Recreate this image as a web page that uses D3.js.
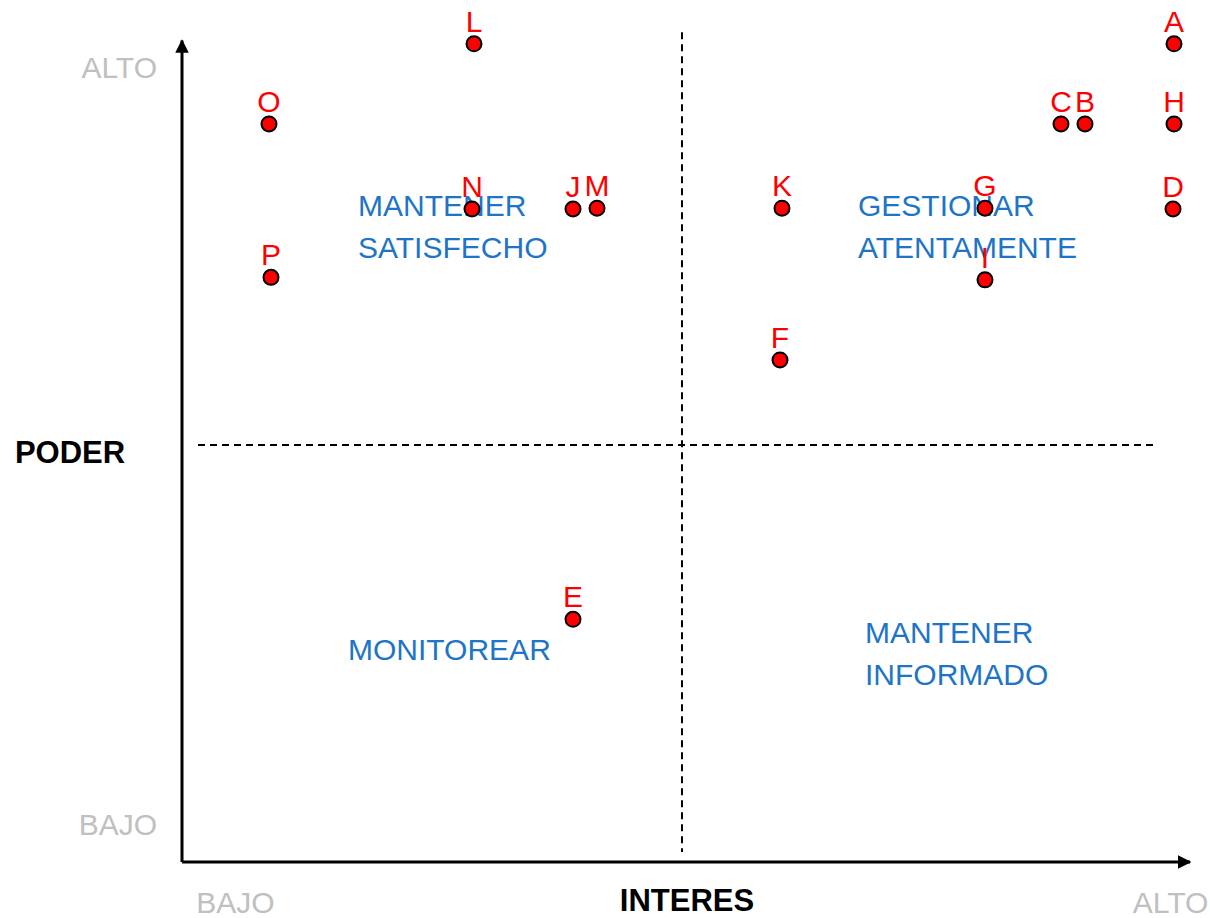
<!DOCTYPE html>
<html>
<head>
<meta charset="utf-8">
<script src="https://cdn.jsdelivr.net/npm/d3@7"></script>
<style>
  body { margin: 0; background: #fff; }
  text { font-family: "Liberation Sans", Arial, sans-serif; }
</style>
</head>
<body>
<script>
// Stakeholders: interest (x) and power (y), 0-10
var names    = ["A", "L", "O", "C", "B", "H", "N", "J", "M", "K", "G", "D", "P", "I", "F", "E"];
var interest = [9.92, 2.92, 0.87, 8.79, 9.03, 9.92, 2.90, 3.91, 4.15, 6.00, 8.03, 9.91, 0.89, 8.03, 5.98, 3.91];
var power    = [9.81, 9.81, 8.85, 8.85, 8.85, 8.85, 7.83, 7.83, 7.84, 7.84, 7.84, 7.83, 7.01, 6.98, 6.02, 2.91];

// Quadrant captions (x, y of first line in data units)
var quadNames = [["MANTENER", "SATISFECHO"], ["GESTIONAR", "ATENTAMENTE"], ["MONITOREAR"], ["MANTENER", "INFORMADO"]];
var quadX     = [1.76, 6.76, 1.66, 6.83];
var quadY     = [7.74, 7.74, 2.42, 2.62];

// Axis tick labels
var xTickVals   = [0.53, 9.88];
var xTickLabels = ["BAJO", "ALTO"];
var yTickVals   = [0.45, 9.52];
var yTickLabels = ["BAJO", "ALTO"];

var width = 1210, height = 918;
var svg = d3.select("body").append("svg")
    .attr("width", width)
    .attr("height", height);

var x = d3.scaleLinear().domain([0, 10]).range([182, 1182]);
var y = d3.scaleLinear().domain([0, 10]).range([862, 28]);

// Dashed quadrant dividers
svg.append("line")
    .attr("x1", x(5)).attr("x2", x(5))
    .attr("y1", y(9.95)).attr("y2", y(0.12))
    .attr("stroke", "#000").attr("stroke-width", 2)
    .attr("stroke-dasharray", "7,5");
svg.append("line")
    .attr("x1", x(0.16)).attr("x2", x(9.73))
    .attr("y1", y(5)).attr("y2", y(5))
    .attr("stroke", "#000").attr("stroke-width", 2)
    .attr("stroke-dasharray", "7,5");

// Axes with gray BAJO / ALTO tick labels
var xAxis = svg.append("g")
    .attr("transform", "translate(0," + y(0) + ")")
    .call(d3.axisBottom(x).tickValues(xTickVals)
        .tickFormat((d, i) => xTickLabels[i]).tickSize(0).tickPadding(30));
var yAxis = svg.append("g")
    .attr("transform", "translate(" + x(0) + ",0)")
    .call(d3.axisLeft(y).tickValues(yTickVals)
        .tickFormat((d, i) => yTickLabels[i]).tickSize(0).tickPadding(25));
[xAxis, yAxis].forEach(g => {
    g.select(".domain").remove();
    g.selectAll("text")
        .attr("fill", "#c0c0c0")
        .style("font-size", "30px")
        .style("font-family", "'Liberation Sans', Arial, sans-serif");
});

// Axis lines with arrowheads
svg.append("defs").append("marker")
    .attr("id", "arrow")
    .attr("viewBox", "0 0 10 10")
    .attr("refX", 9).attr("refY", 5)
    .attr("markerWidth", 4.5).attr("markerHeight", 4.5)
    .attr("orient", "auto")
    .append("path")
    .attr("d", "M0,0 L10,5 L0,10 Z")
    .attr("fill", "#000");
svg.append("line")
    .attr("x1", x(0)).attr("y1", y(0))
    .attr("x2", x(0)).attr("y2", y(9.85))
    .attr("stroke", "#000").attr("stroke-width", 3)
    .attr("marker-end", "url(#arrow)");
svg.append("line")
    .attr("x1", x(0)).attr("y1", y(0))
    .attr("x2", x(10.08)).attr("y2", y(0))
    .attr("stroke", "#000").attr("stroke-width", 3)
    .attr("marker-end", "url(#arrow)");

// Axis titles
svg.append("text")
    .attr("x", 70).attr("y", y(5) + 18)
    .attr("text-anchor", "middle")
    .style("font-size", "31px").style("font-weight", "bold")
    .text("PODER");
svg.append("text")
    .attr("x", x(5.05)).attr("y", 911)
    .attr("text-anchor", "middle")
    .style("font-size", "31px").style("font-weight", "bold")
    .text("INTERES");

// Quadrant captions
quadNames.forEach((lines, i) => {
    svg.append("text")
        .attr("x", x(quadX[i])).attr("y", y(quadY[i]))
        .attr("fill", "#1e74c6")
        .style("font-size", "30px")
        .selectAll("tspan")
        .data(lines)
        .join("tspan")
        .attr("x", x(quadX[i]))
        .attr("dy", (d, j) => j ? 42 : 0)
        .text(d => d);
});

// Stakeholder points
var pts = names.map((n, i) => ({ name: n, ix: interest[i], pw: power[i] }));
var node = svg.append("g").selectAll("g")
    .data(pts)
    .join("g")
    .attr("transform", d => "translate(" + x(d.ix) + "," + y(d.pw) + ")");
node.append("circle")
    .attr("r", 7.5)
    .attr("fill", "#ff0000")
    .attr("stroke", "#000")
    .attr("stroke-width", 2);
node.append("text")
    .attr("y", -12)
    .attr("text-anchor", "middle")
    .attr("fill", "#ff0000")
    .style("font-size", "30px")
    .text(d => d.name);
</script>
</body>
</html>
